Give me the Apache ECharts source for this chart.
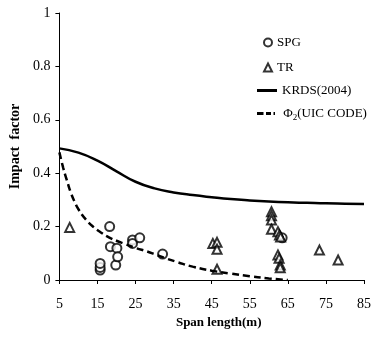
<!DOCTYPE html>
<html><head><meta charset="utf-8">
<script src="https://cdn.jsdelivr.net/npm/echarts@6/dist/echarts.min.js"></script>
<style>html,body{margin:0;padding:0;background:#fff}#c{width:374px;height:337px}</style>
</head><body><div id="c"></div>
<script>
var xTicks = [5, 15, 25, 35, 45, 55, 65, 75, 85];
var spgSpan   = [15.7, 15.7, 15.7, 18.2, 18.4, 19.8, 20.1, 20.3, 24.2, 24.2, 26.1, 32.1, 63.5];
var spgFactor = [0.037, 0.047, 0.062, 0.2, 0.125, 0.056, 0.119, 0.087, 0.15, 0.137, 0.158, 0.097, 0.158];
var trSpan   = [7.7, 45.3, 46.4, 46.4, 46.4, 60.7, 60.7, 60.7, 60.7, 62.4, 62.8, 63.1, 62.4, 62.7, 63.0, 63.0, 73.3, 78.2];
var trFactor = [0.197, 0.137, 0.141, 0.115, 0.04, 0.256, 0.241, 0.225, 0.19, 0.181, 0.169, 0.161, 0.094, 0.081, 0.056, 0.046, 0.112, 0.075];
var krdsSpan   = [5, 10, 15, 20, 25, 30, 35, 40, 45, 50, 55, 60, 65, 70, 75, 80, 85];
var krdsFactor = [0.493, 0.477, 0.447, 0.407, 0.368, 0.343, 0.328, 0.318, 0.31, 0.303, 0.298, 0.294, 0.291, 0.289, 0.287, 0.286, 0.285];
var uicSpan   = [5, 6, 7, 8, 9, 10, 12, 14, 16, 18, 20, 22, 25, 28, 30, 33, 36, 40, 45, 50, 55, 60, 65];
var uicFactor = [0.478, 0.42, 0.372, 0.327, 0.293, 0.265, 0.226, 0.198, 0.177, 0.16, 0.147, 0.136, 0.12, 0.107, 0.097, 0.081, 0.067, 0.05, 0.035, 0.024, 0.014, 0.006, 0];

function zip(a, b) { return a.map(function (v, i) { return [v, b[i]]; }); }
var serif = '"Liberation Serif","Times New Roman",serif';
var legText = {fontFamily: serif, fontSize: 13, color: '#000',
  rich: {a: {fontFamily: serif, fontSize: 13, color: '#000'},
         s: {fontFamily: serif, fontSize: 9, color: '#000', padding: [8, 0, 0, 0]}}};
function leg(name, icon, left, top, w, h) {
  return {orient: 'vertical', left: left, top: top, itemWidth: w, itemHeight: h, padding: 0,
    selectedMode: false, textStyle: legText,
    formatter: function (n) { return n === 'Φ2(UIC CODE)' ? '{a| Φ}{s|2}{a|(UIC CODE)}' : n; },
    data: [{name: name, icon: icon}]};
}
var chart = echarts.init(document.getElementById('c'), null, {renderer: 'canvas'});
chart.setOption({
  animation: false,
  backgroundColor: '#fff',
  grid: {left: 57, right: 5, top: 13, bottom: 57, containLabel: false},
  legend: [
    leg('SPG', 'emptyCircle', 263, 36, 8, 8),
    leg('TR', 'emptyTriangle', 263, 61, 8, 8),
    leg('KRDS(2004)', 'rect', 257, 84, 20, 3),
    leg('Φ2(UIC CODE)', 'path://M0,0h6.5v3h-6.5z M9,0h5v3h-5z M16.5,0h1.5v3h-1.5z', 257, 107, 18, 3)
  ],
  xAxis: {
    type: 'value', min: 5, max: 85,
    name: 'Span length(m)', nameLocation: 'middle', nameGap: 34,
    nameTextStyle: {fontFamily: serif, fontSize: 13, fontWeight: 'bold', color: '#000', padding: [0, 0, 0, 14]},
    axisLine: {lineStyle: {color: '#000', width: 1}},
    axisTick: {show: true, length: 4, lineStyle: {color: '#000'}, customValues: xTicks},
    axisLabel: {fontFamily: serif, fontSize: 14, color: '#000', margin: 17, customValues: xTicks},
    splitLine: {show: false}
  },
  yAxis: {
    type: 'value', min: 0, max: 1, interval: 0.2,
    name: 'Impact  factor', nameLocation: 'middle', nameGap: 35,
    nameTextStyle: {fontFamily: serif, fontSize: 14, fontWeight: 'bold', color: '#000'},
    axisLine: {show: true, lineStyle: {color: '#000', width: 1}},
    axisTick: {show: true, length: 4, lineStyle: {color: '#000'}},
    axisLabel: {fontFamily: serif, fontSize: 14, color: '#000', margin: 9},
    splitLine: {show: false}
  },
  series: [
    {name: 'SPG', type: 'scatter', symbol: 'emptyCircle', symbolSize: 9,
     itemStyle: {color: '#000', borderColor: '#000', borderWidth: 2}, data: zip(spgSpan, spgFactor)},
    {name: 'TR', type: 'scatter', symbol: 'emptyTriangle', symbolSize: 9,
     itemStyle: {color: '#000', borderColor: '#000', borderWidth: 1.6}, data: zip(trSpan, trFactor)},
    {name: 'KRDS(2004)', type: 'line', smooth: true, symbol: 'none', showSymbol: false,
     lineStyle: {color: '#000', width: 2.5}, itemStyle: {color: '#000'}, data: zip(krdsSpan, krdsFactor)},
    {name: 'Φ2(UIC CODE)', type: 'line', smooth: true, symbol: 'none', showSymbol: false,
     lineStyle: {color: '#000', width: 2.5, type: [7, 4]}, itemStyle: {color: '#000'}, data: zip(uicSpan, uicFactor)}
  ]
});
</script></body></html>
